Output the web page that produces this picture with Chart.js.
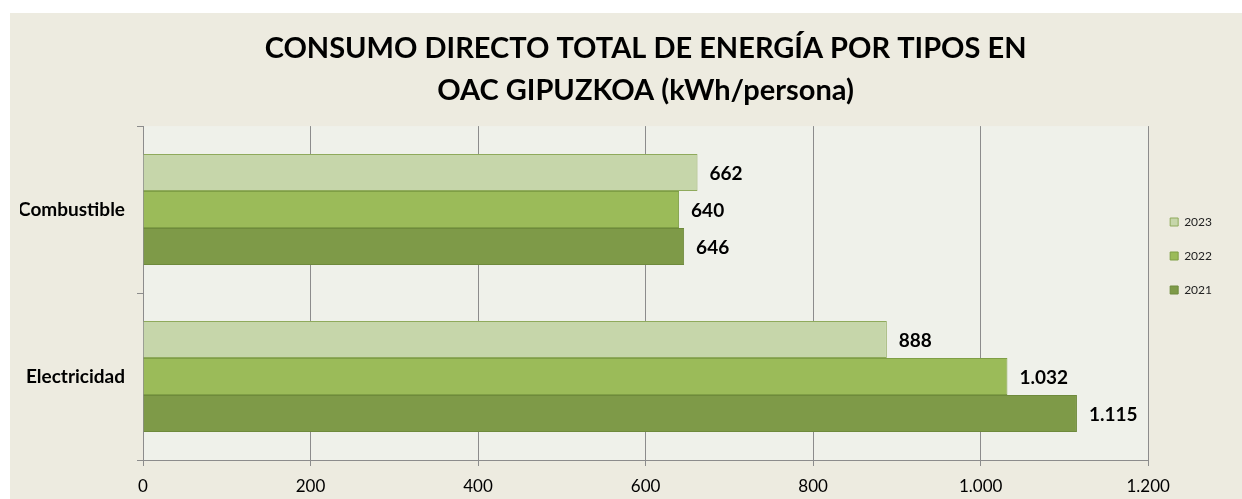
<!DOCTYPE html>
<html>
<head>
<meta charset="utf-8">
<script src="https://cdn.jsdelivr.net/npm/chart.js@4"></script>
<style>
  html, body { margin: 0; padding: 0; background: #ffffff; }
  #box { position: absolute; left: 10px; top: 13px; width: 1232px; height: 486px; background: #EDEBE0; }
</style>
</head>
<body>
<div id="box"><canvas id="chart" width="1232" height="486"></canvas></div>
<script>
const categories = ['Combustible', 'Electricidad'];
const years = ['2023', '2022', '2021'];
const values_2023 = [662, 888];
const values_2022 = [640, 1032];
const values_2021 = [646, 1115];
const x_ticks = [0, 200, 400, 600, 800, 1000, 1200];

const fill_colors = ['#C6D6AA', '#9BBB59', '#7E9A48'];
const line_colors = ['#8FAA5C', '#7F9F45', '#6E8A3C'];

function fmt(v) {
    return String(v).replace(/\B(?=(\d{3})+(?!\d))/g, '.');
}

const plotBackground = {
    id: 'plotBackground',
    beforeDraw(chart) {
        const { ctx, chartArea: a } = chart;
        ctx.save();
        ctx.fillStyle = '#EFF1EA';
        ctx.fillRect(a.left, a.top, a.right - a.left, a.bottom - a.top);
        ctx.restore();
    }
};

const valueLabels = {
    id: 'valueLabels',
    afterDatasetsDraw(chart) {
        const ctx = chart.ctx;
        ctx.save();
        ctx.font = 'bold 19px Lato';
        ctx.fillStyle = '#000000';
        ctx.textAlign = 'left';
        ctx.textBaseline = 'middle';
        chart.data.datasets.forEach((ds, i) => {
            chart.getDatasetMeta(i).data.forEach((bar, j) => {
                ctx.fillText(fmt(ds.data[j]), bar.x + 12, bar.y + 1);
            });
        });
        ctx.restore();
    }
};

const series = [values_2023, values_2022, values_2021];

new Chart(document.getElementById('chart'), {
    type: 'bar',
    data: {
        labels: categories,
        datasets: years.map((y, i) => ({
            label: y,
            data: series[i],
            backgroundColor: fill_colors[i],
            borderColor: line_colors[i],
            borderWidth: 1,
            categoryPercentage: 0.665,
            barPercentage: 1
        }))
    },
    options: {
        indexAxis: 'y',
        responsive: false,
        animation: false,
        layout: { padding: { left: 10, right: 20, top: 0, bottom: 0 } },
        plugins: {
            title: {
                display: true,
                fullSize: false,
                text: ['CONSUMO DIRECTO TOTAL DE ENERGÍA POR TIPOS EN', 'OAC GIPUZKOA (kWh/persona)'],
                font: { family: 'Lato', size: 29, weight: 'bold', lineHeight: 1.45 },
                color: '#000000',
                padding: { top: 15, bottom: 14 }
            },
            legend: {
                position: 'right',
                align: 'center',
                labels: {
                    boxWidth: 8,
                    boxHeight: 8,
                    padding: 22,
                    font: { family: 'Lato', size: 12 },
                    color: '#222222'
                }
            },
            tooltip: { enabled: false }
        },
        scales: {
            x: {
                min: 0,
                max: 1200,
                afterBuildTicks(scale) {
                    scale.ticks = x_ticks.map(v => ({ value: v }));
                },
                afterFit(scale) { scale.height = 39; },
                ticks: {
                    callback: v => fmt(v),
                    font: { family: 'Lato', size: 17 },
                    color: '#000000',
                    padding: 10
                },
                grid: { color: '#8C8C8C', tickLength: 6, lineWidth: 1 },
                border: { color: '#8C8C8C' }
            },
            y: {
                afterFit(scale) { scale.width = 123; },
                ticks: {
                    font: { family: 'Lato', size: 19, weight: 'bold' },
                    color: '#000000',
                    padding: 12
                },
                grid: { drawOnChartArea: false, color: '#8C8C8C', tickLength: 6, offset: true },
                border: { color: '#8C8C8C' }
            }
        }
    },
    plugins: [plotBackground, valueLabels]
});
</script>
</body>
</html>
